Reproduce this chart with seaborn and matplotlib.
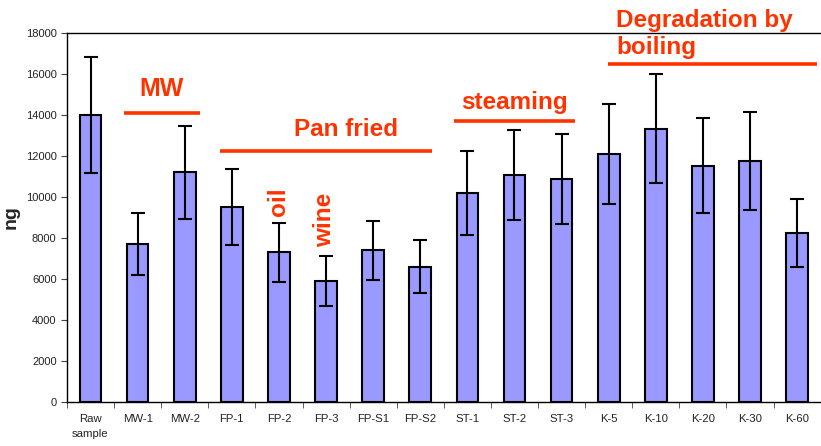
import matplotlib
matplotlib.use("Agg")
import matplotlib.pyplot as plt
import seaborn as sns
import pandas as pd
import numpy as np

# Sample names and measured amounts (ng) with error bar half-widths
samples = ["Raw\nsample", "MW-1", "MW-2", "FP-1", "FP-2", "FP-3", "FP-S1", "FP-S2",
           "ST-1", "ST-2", "ST-3", "K-5", "K-10", "K-20", "K-30", "K-60"]
amounts = [14000, 7700, 11200, 9500, 7300, 5900, 7400, 6600,
           10200, 11070, 10900, 12100, 13330, 11530, 11770, 8250]
errors = [2820, 1520, 2280, 1850, 1450, 1200, 1450, 1300,
          2050, 2200, 2200, 2430, 2660, 2320, 2380, 1650]
y_ticks = [0, 2000, 4000, 6000, 8000, 10000, 12000, 14000, 16000, 18000]

RED = "#FF3300"

sns.set_style("ticks")
plt.rcParams["font.family"] = ["Liberation Sans", "DejaVu Sans"]

df = pd.DataFrame({"sample": samples, "ng": amounts})

fig = plt.figure(figsize=(8.21, 4.46), dpi=100)
ax = fig.add_axes([0.0816, 0.0987, 0.918, 0.827])

sns.barplot(data=df, x="sample", y="ng", color="#9999FF", saturation=1,
            edgecolor="black", linewidth=1.5, width=0.46, errorbar=None, ax=ax)
ax.errorbar(np.arange(len(samples)), amounts, yerr=errors, fmt="none",
            ecolor="black", elinewidth=1.5, capsize=5, capthick=1.5)

ax.set_ylim(0, 18000)
ax.set_xlim(-0.5, len(samples) - 0.5)
ax.set_yticks(y_ticks)
ax.set_yticklabels([str(t) for t in y_ticks], fontsize=8, color="#222222")
ax.set_xticks(np.arange(len(samples)))
ax.set_xticklabels(samples, fontsize=8.2, color="#222222", linespacing=1.6)
ax.set_xticks(np.arange(len(samples) + 1) - 0.5, minor=True)
ax.tick_params(axis="x", which="major", length=0, pad=9)
ax.tick_params(axis="x", which="minor", length=4, direction="out", color="#444444")
ax.tick_params(axis="y", length=4, direction="out", color="#444444")
ax.set_xlabel("")
ax.set_ylabel("ng", fontsize=14, fontweight="bold")
ax.yaxis.set_label_coords(-0.063, 0.5)

for side in ["top", "left", "bottom"]:
    ax.spines[side].set_visible(True)
    ax.spines[side].set_color("black")
    ax.spines[side].set_linewidth(1.0)
ax.spines["right"].set_visible(False)

# Group annotations
LW = 2.6
ax.plot([0.71, 2.32], [14100, 14100], color=RED, lw=LW, solid_capstyle="butt")
ax.text(1.5, 15250, "MW", color=RED, fontsize=18, fontweight="bold", ha="center", va="center")

ax.plot([2.75, 7.25], [12240, 12240], color=RED, lw=LW, solid_capstyle="butt")
ax.text(5.42, 13300, "Pan fried", color=RED, fontsize=17.5, fontweight="bold", ha="center", va="center")

ax.text(4.0, 9760, "oil", color=RED, fontsize=17.5, fontweight="bold", ha="center", va="center", rotation=90)
ax.text(4.96, 8880, "wine", color=RED, fontsize=17.5, fontweight="bold", ha="center", va="center", rotation=90)

ax.plot([7.72, 10.28], [13700, 13700], color=RED, lw=LW, solid_capstyle="butt")
ax.text(9.0, 14600, "steaming", color=RED, fontsize=17.5, fontweight="bold", ha="center", va="center")

ax.plot([10.99, 15.42], [16480, 16480], color=RED, lw=LW, solid_capstyle="butt", clip_on=False)
ax.text(11.16, 17950, "Degradation by\nboiling", color=RED, fontsize=17.5, fontweight="bold",
        ha="left", va="center", linespacing=1.2, clip_on=False)

fig.savefig("out.png", dpi=100)
